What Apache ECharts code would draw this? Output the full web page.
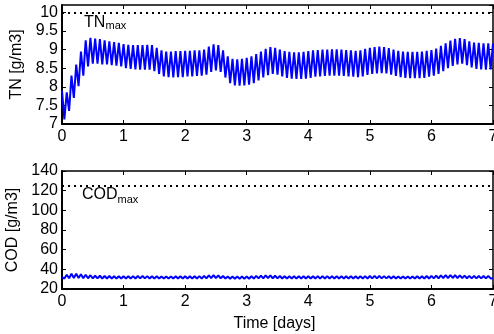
<!DOCTYPE html>
<html>
<head>
<meta charset="utf-8">
<script src="https://cdn.jsdelivr.net/npm/echarts@6/dist/echarts.min.js"></script>
<style>
  html, body { margin: 0; padding: 0; background: #fff; }
  #chart { width: 494px; height: 334px; }
</style>
</head>
<body>
<div id="chart"></div>
<script>
// Simulated effluent quality over one week, sampled at every peak and trough
// of the ~13-per-day loading cycle (half-cycle spacing = 1/26 day).
const xTicks = [0, 1, 2, 3, 4, 5, 6, 7];
const tnTicks = [7, 7.5, 8, 8.5, 9, 9.5, 10];
const codTicks = [20, 40, 60, 80, 100, 120, 140];
const TN_MAX = 10;
const COD_MAX = 125;
const HALF_CYCLE_DAYS = 1 / 26;

// Total nitrogen [g/m3]: peaks and troughs, one row per day
const tnPeaks = [
  7.90, 7.85, 8.30, 8.60, 8.95, 9.25, 9.32, 9.30, 9.28, 9.25, 9.22, 9.20, 9.18,
  9.15, 9.13, 9.12, 9.12, 9.12, 9.13, 9.12, 9.05, 8.98, 8.95, 8.95, 8.96, 8.96,
  8.97, 8.97, 8.98, 8.98, 9.00, 9.08, 9.14, 9.12, 8.98, 8.82, 8.75, 8.74, 8.75,
  8.78, 8.82, 8.88, 8.95, 9.02, 9.07, 9.05, 9.00, 8.96, 8.94, 8.93, 8.93, 8.94,
  8.96, 8.98, 8.99, 9.00, 9.00, 9.01, 9.01, 9.00, 8.99, 8.98, 8.97, 8.98, 9.02,
  9.05, 9.07, 9.08, 9.07, 9.04, 9.00, 8.97, 8.95, 8.94, 8.94, 8.94, 8.95, 8.97,
  8.99, 9.03, 9.10, 9.17, 9.24, 9.29, 9.31, 9.28, 9.22, 9.19, 9.18, 9.17, 9.17
];
const tnTroughs = [
  7.12, 7.35, 7.70, 8.02, 8.30, 8.55, 8.62, 8.62, 8.60, 8.60, 8.58, 8.57, 8.55,
  8.50, 8.48, 8.47, 8.46, 8.46, 8.46, 8.42, 8.35, 8.28, 8.26, 8.25, 8.26, 8.26,
  8.28, 8.28, 8.29, 8.30, 8.33, 8.40, 8.44, 8.40, 8.25, 8.10, 8.04, 8.03, 8.04,
  8.06, 8.10, 8.17, 8.25, 8.31, 8.35, 8.33, 8.28, 8.24, 8.22, 8.21, 8.21, 8.22,
  8.24, 8.27, 8.28, 8.29, 8.30, 8.30, 8.30, 8.29, 8.28, 8.27, 8.26, 8.28, 8.32,
  8.35, 8.36, 8.37, 8.36, 8.33, 8.29, 8.26, 8.24, 8.23, 8.23, 8.23, 8.24, 8.27,
  8.30, 8.35, 8.42, 8.50, 8.56, 8.60, 8.62, 8.58, 8.52, 8.48, 8.47, 8.46, 8.47
];
const tnLast = 9.16;

// Chemical oxygen demand [g/m3]: peaks and troughs, one row per day
const codPeaks = [
  32.0, 34.5, 35.5, 35.5, 35.0, 34.5, 34.0, 33.5, 33.5, 33.2, 33.2, 33.0, 33.0,
  33.0, 33.0, 33.1, 33.2, 33.2, 33.1, 33.0, 32.9, 32.8, 32.8, 32.8, 32.9, 32.9,
  32.9, 33.0, 33.0, 33.1, 33.3, 33.8, 34.2, 33.8, 33.2, 32.8, 32.6, 32.6, 32.6,
  32.7, 32.9, 33.3, 33.7, 33.9, 33.8, 33.5, 33.2, 33.0, 32.9, 32.9, 32.9, 33.0,
  33.0, 33.0, 33.1, 33.1, 33.1, 33.1, 33.0, 33.0, 33.0, 32.9, 32.9, 33.0, 33.1,
  33.2, 33.3, 33.3, 33.1, 33.0, 32.9, 32.8, 32.8, 32.8, 32.8, 32.9, 33.0, 33.2,
  33.4, 33.6, 33.9, 34.1, 34.2, 34.1, 33.9, 33.6, 33.4, 33.3, 33.2, 33.2, 33.2
];
const codTroughs = [
  30.6, 30.9, 31.2, 31.2, 31.0, 30.9, 30.8, 30.8, 30.7, 30.7, 30.7, 30.7, 30.7,
  30.7, 30.7, 30.7, 30.8, 30.8, 30.7, 30.7, 30.6, 30.6, 30.6, 30.6, 30.6, 30.6,
  30.6, 30.6, 30.7, 30.7, 30.8, 31.0, 31.1, 30.9, 30.7, 30.5, 30.5, 30.5, 30.5,
  30.5, 30.6, 30.8, 30.9, 31.0, 30.9, 30.8, 30.7, 30.6, 30.6, 30.6, 30.6, 30.6,
  30.6, 30.7, 30.7, 30.7, 30.7, 30.7, 30.7, 30.7, 30.6, 30.6, 30.6, 30.7, 30.7,
  30.8, 30.8, 30.8, 30.8, 30.7, 30.6, 30.6, 30.6, 30.6, 30.6, 30.6, 30.7, 30.7,
  30.8, 30.9, 31.0, 31.1, 31.2, 31.1, 31.0, 30.9, 30.8, 30.8, 30.8, 30.8, 30.8
];
const codLast = 31.0;

// Interleave peaks and troughs into [time, value] pairs on the sampling grid
function toSeries(peaks, troughs, last) {
  const out = [];
  for (let k = 0; k < peaks.length; k++) {
    out.push([(2 * k) * HALF_CYCLE_DAYS, peaks[k]]);
    out.push([(2 * k + 1) * HALF_CYCLE_DAYS, troughs[k]]);
  }
  out.push([(2 * peaks.length) * HALF_CYCLE_DAYS, last]);
  return out;
}

const FONT = '"Liberation Sans", Arial, Helvetica, sans-serif';
const BLUE = '#0000ff';

function xAx(gridIndex, bottom) {
  return {
    type: 'value', gridIndex: gridIndex,
    position: bottom ? 'bottom' : 'top',
    min: xTicks[0], max: xTicks[xTicks.length - 1], interval: 1,
    axisLine: { show: true, onZero: false, lineStyle: { color: '#000', width: bottom ? 2 : 1.5 } },
    axisTick: { show: true, inside: true, length: 4, lineStyle: { color: '#000', width: 1 } },
    axisLabel: { show: bottom, color: '#000', fontSize: 16, fontFamily: FONT, margin: 5 },
    splitLine: { show: false }
  };
}

function yAx(gridIndex, left, ticks, max, name) {
  return {
    type: 'value', gridIndex: gridIndex,
    position: left ? 'left' : 'right',
    min: ticks[0], max: max, interval: ticks[1] - ticks[0],
    name: left ? name : '',
    nameLocation: 'middle', nameGap: 32,
    nameTextStyle: { color: '#000', fontSize: 16, fontFamily: FONT },
    axisLine: { show: true, onZero: false, lineStyle: { color: '#000', width: left ? 2 : 1.5 } },
    axisTick: { show: true, inside: true, length: 4, lineStyle: { color: '#000', width: 1 } },
    axisLabel: {
      show: left, color: '#000', fontSize: 16, fontFamily: FONT, margin: 4,
      showMaxLabel: max === ticks[ticks.length - 1],
      formatter: function (v) { return ticks.indexOf(v) >= 0 ? String(v) : ''; }
    },
    splitLine: { show: false }
  };
}

function limitLine(value) {
  return {
    silent: true, symbol: 'none', animation: false,
    label: { show: false },
    lineStyle: { color: '#000', type: [2, 4], width: 2 },
    data: [{ yAxis: value }]
  };
}

const chart = echarts.init(document.getElementById('chart'), null, { renderer: 'canvas' });
chart.setOption({
  animation: false,
  backgroundColor: '#fff',
  grid: [
    { left: 62, top: 5, width: 431, height: 119, outerBoundsMode: 'none', containLabel: false },
    { left: 62, top: 171, width: 431, height: 118, outerBoundsMode: 'none', containLabel: false }
  ],
  xAxis: [
    xAx(0, true), xAx(0, false),
    Object.assign(xAx(1, true), {
      name: 'Time [days]', nameLocation: 'middle', nameGap: 27,
      nameTextStyle: { color: '#000', fontSize: 16, fontFamily: FONT, padding: [0, 6, 0, 0] }
    }),
    xAx(1, false)
  ],
  yAxis: [
    yAx(0, true, tnTicks, 10.2, 'TN [g/m3]'), yAx(0, false, tnTicks, 10.2, ''),
    yAx(1, true, codTicks, 140, 'COD [g/m3]'), yAx(1, false, codTicks, 140, '')
  ],
  series: [
    {
      type: 'line', xAxisIndex: 0, yAxisIndex: 0,
      data: toSeries(tnPeaks, tnTroughs, tnLast),
      showSymbol: false, symbol: 'none', clip: true,
      lineStyle: { color: BLUE, width: 2 },
      markLine: limitLine(TN_MAX)
    },
    {
      type: 'line', xAxisIndex: 2, yAxisIndex: 2,
      data: toSeries(codPeaks, codTroughs, codLast),
      showSymbol: false, symbol: 'none', clip: true,
      lineStyle: { color: BLUE, width: 2 },
      markLine: limitLine(COD_MAX)
    }
  ],
  graphic: [
    { type: 'text', x: 84, y: 22.5, style: { text: 'TN', fill: '#000', font: '16px ' + FONT, verticalAlign: 'middle' } },
    { type: 'text', x: 105.5, y: 25.5, style: { text: 'max', fill: '#000', font: '11px ' + FONT, verticalAlign: 'middle' } },
    { type: 'text', x: 82, y: 195, style: { text: 'COD', fill: '#000', font: '16px ' + FONT, verticalAlign: 'middle' } },
    { type: 'text', x: 117.5, y: 199.5, style: { text: 'max', fill: '#000', font: '11px ' + FONT, verticalAlign: 'middle' } }
  ]
});
</script>
</body>
</html>
